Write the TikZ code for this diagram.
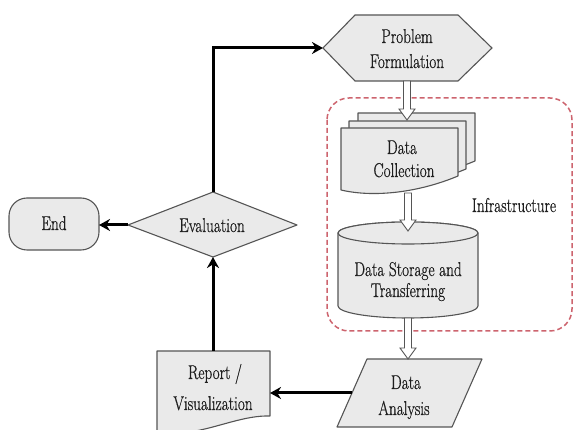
\documentclass[tikz,border=0pt]{standalone}
\usepackage{fontspec}
\setmainfont{Latin Modern Roman}[FakeBold=0.8]
\usetikzlibrary{arrows.meta,calc}
\definecolor{boxfill}{RGB}{234,234,234}
\definecolor{boxline}{RGB}{85,85,85}
\definecolor{infra}{RGB}{205,100,110}
\definecolor{ink}{RGB}{30,30,30}
% narrow setting of the labels
\newcommand{\narrowtext}[1]{\scalebox{0.76}[1]{#1}}

\begin{document}
\begin{tikzpicture}[x=1pt,y=-1pt,
  outline/.style={draw=boxline, fill=boxfill, line width=1.1pt, line join=round},
  txt/.style={font=\fontsize{20}{24}\selectfont, inner sep=0pt, anchor=base, text=ink},
  mainarrow/.style={line width=3pt, -{Stealth[length=11pt,width=12pt]}},
  hollow/.style={draw=boxline, fill=white, line width=0.9pt, line join=miter,
    to path={let \p1=(\tikztostart), \p2=(\tikztotarget) in
      (\x1-3.5pt,\y1) -- (\x1-3.5pt,\y2+11pt) -- (\x1-8pt,\y2+11pt) -- (\x1,\y2)
      -- (\x1+8pt,\y2+11pt) -- (\x1+3.5pt,\y2+11pt) -- (\x1+3.5pt,\y1) -- cycle}}
]
\useasboundingbox (0,0) rectangle (574,430);

% infrastructure group
\draw[infra, line width=1.5pt, dash pattern=on 5pt off 3pt, rounded corners=22pt]
  (327,98) rectangle (572,331);
\node[txt] (infra-t) at (514,212) {\narrowtext{Infrastructure}};

% problem formulation (preparation hexagon)
\draw[outline] (323,48) -- (355,15) -- (458,15) -- (492,48) -- (458,81) -- (355,81) -- cycle;
\coordinate (pf-w) at (323,48);
\coordinate (pf-s) at (407,81);
\node[txt] (pf-a) at (407,43) {\narrowtext{Problem}};
\node[txt] (pf-b) at (407,68) {\narrowtext{Formulation}};

% data collection (stacked documents)
\foreach \dx/\dy in {17/-15, 8/-7, 0/0} {
  \draw[outline] (341+\dx,128+\dy) -- (458+\dx,128+\dy) -- (458+\dx,176+\dy)
    .. controls (420+\dx,192+\dy) and (375+\dx,198+\dy) .. (341+\dx,190+\dy) -- cycle;
}
\coordinate (dc-n) at (407,120);
\coordinate (dc-s) at (408,193);
\node[txt] (dc-a) at (402,154) {\narrowtext{Data}};
\node[txt] (dc-b) at (404,177) {\narrowtext{Collection}};

% data storage (cylinder)
\draw[outline] (338,233) -- (338,306) arc[start angle=180, end angle=0, x radius=70, y radius=12]
  -- (478,233) arc[start angle=0, end angle=-180, x radius=70, y radius=11] -- cycle;
\draw[outline] (408,233) ellipse[x radius=70, y radius=11];
\coordinate (st-n) at (408,231);
\coordinate (st-s) at (408,318);
\node[txt] (st-a) at (408,276) {\narrowtext{Data Storage and}};
\node[txt] (st-b) at (408,297) {\narrowtext{Transferring}};

% data analysis (parallelogram)
\draw[outline] (367,359) -- (482,359) -- (452,427) -- (337,427) -- cycle;
\coordinate (da-n) at (408,359);
\coordinate (da-w) at (352,393);
\node[txt] (da-a) at (406,389) {\narrowtext{Data}};
\node[txt] (da-b) at (404,415) {\narrowtext{Analysis}};

% report / visualization (document)
\draw[outline] (157,351) -- (270,351) -- (270,416)
  .. controls (235,415) and (200,438) .. (157,433) -- cycle;
\coordinate (rp-n) at (213,351);
\coordinate (rp-e) at (270,393);
\node[txt] (rp-a) at (215,379) {\narrowtext{Report /}};
\node[txt] (rp-b) at (213,410) {\narrowtext{Visualization}};

% evaluation (decision)
\draw[outline] (128,225) -- (213,192) -- (297,225) -- (213,257) -- cycle;
\coordinate (ev-n) at (213,192);
\coordinate (ev-s) at (213,257);
\coordinate (ev-w) at (128,225);
\node[txt] (ev-t) at (212,232) {\narrowtext{Evaluation}};

% end (terminator)
\draw[outline, rounded corners=18pt] (9,198) rectangle (99,250);
\coordinate (en-e) at (99,225);
\node[txt] (en-t) at (54,230) {\narrowtext{End}};

% process flow inside the infrastructure
\draw[hollow] (pf-s) to (dc-n);
\draw[hollow] (dc-s) to (st-n);
\draw[hollow] (st-s) to (da-n);

% main control flow
\draw[mainarrow] (ev-n) |- (pf-w);
\draw[mainarrow] (ev-w) -- (en-e);
\draw[mainarrow] (rp-n) -- (ev-s);
\draw[mainarrow] (da-w) -- (rp-e);
\end{tikzpicture}
\end{document}
